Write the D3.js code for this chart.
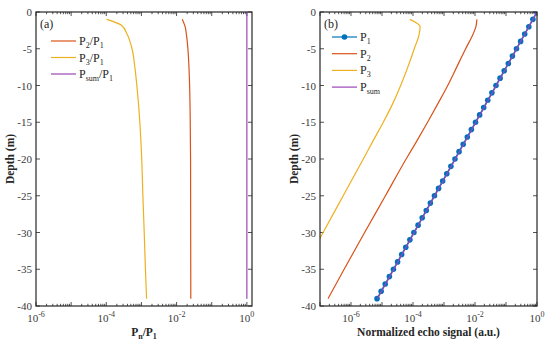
<!DOCTYPE html>
<html>
<head>
<meta charset="utf-8">
<script src="https://cdn.jsdelivr.net/npm/d3@7"></script>
<style>
  body { margin: 0; background: #fff; }
  svg text { font-family: 'Times New Roman', Times, 'Liberation Serif', 'DejaVu Serif', serif; fill: #262626; }
</style>
</head>
<body>
<div id="chart"></div>
<script>
// panel (a) ratios
const depthP2P1 = [-1, -2, -3, -5, -7.5, -10, -15, -20, -30, -39]
const p2p1 = [0.0145, 0.0175, 0.019, 0.021, 0.0225, 0.0235, 0.0245, 0.025, 0.0252, 0.0254]
const depthP3P1 = [-1, -1.8, -3, -4, -5, -7.5, -10, -12, -15, -20, -25, -30, -35, -39]
const p3p1 = [1.02e-4, 2.7e-4, 3.9e-4, 4.7e-4, 5.4e-4, 6.5e-4, 7.4e-4, 8.1e-4, 9.0e-4, 1.02e-3, 1.1e-3, 1.2e-3, 1.3e-3, 1.4e-3]
const depthSumA = [0, -39]
const psump1 = [1.0, 1.0]

// panel (b) signals
const depthP1 = d3.range(0, -40, -1)
const p1 = [1, 0.737, 0.544, 0.401, 0.296, 0.218, 0.161, 0.119, 0.0875, 0.0645,
  0.0475, 0.0351, 0.0258, 0.0191, 0.0141, 0.0104, 0.00764, 0.00564, 0.00416, 0.00306,
  0.00226, 0.00167, 0.00123, 9.06e-4, 6.68e-4, 4.92e-4, 3.63e-4, 2.68e-4, 1.98e-4, 1.46e-4,
  1.07e-4, 7.92e-5, 5.84e-5, 4.31e-5, 3.18e-5, 2.34e-5, 1.73e-5, 1.27e-5, 9.39e-6, 6.92e-6]
const depthP2 = [-1, -2, -3, -5, -7.5, -10, -12.5, -15, -17.5, -20, -25, -30, -35, -39]
const p2 = [1.15e-2, 1.07e-2, 8.7e-3, 5.0e-3, 2.57e-3, 1.32e-3, 6.3e-4, 2.95e-4, 1.35e-4, 6.0e-5,
  1.29e-5, 2.75e-6, 6.0e-7, 1.82e-7]
const depthP3 = [-1, -2, -3, -5, -7.5, -10, -12.5, -15, -17.5, -20, -25, -30, -31.5]
const p3 = [7.9e-5, 1.7e-4, 1.58e-4, 1.1e-4, 6.8e-5, 4.0e-5, 2.2e-5, 1.1e-5, 5.2e-6, 2.5e-6,
  5.6e-7, 1.26e-7, 8.1e-8]
const depthSum = [0, -10, -20, -30, -39]
const psum = [1.0, 0.049, 0.00232, 1.1e-4, 7.1e-6]

const depthTicks = [0, -5, -10, -15, -20, -25, -30, -35, -40]
const decadeTicks = [1e-6, 1e-4, 1e-2, 1]

const colors = { blue: '#0072BD', orange: '#D95319', yellow: '#EDB120', purple: '#9A45B8' }

const w = 550
const h = 348

const svg = d3.select('#chart')
  .append('svg')
  .attr('width', w)
  .attr('height', h)

const drawPanel = (opt) => {
  const g = svg.append('g')
  const x = d3.scaleLog().domain(opt.xDomain).range([opt.left, opt.right])
  const y = d3.scaleLinear().domain([-40, 0]).range([opt.bottom, opt.top])

  const clipId = 'clip' + opt.name
  svg.append('clipPath').attr('id', clipId)
    .append('rect')
    .attr('x', opt.left).attr('y', opt.top)
    .attr('width', opt.right - opt.left).attr('height', opt.bottom - opt.top)

  // log ticks on top and bottom
  const ticks = []
  const lo = Math.floor(Math.log10(opt.xDomain[0]))
  for (let e = lo; e < 1; e++) {
    for (let m = 1; m < 10; m++) {
      const v = m * Math.pow(10, e)
      if (v >= opt.xDomain[0] && v <= opt.xDomain[1]) ticks.push({ v, major: m === 1 })
    }
  }
  ticks.forEach(t => {
    const len = t.major ? 4 : 2.2
    const xx = x(t.v)
    g.append('line').attr('x1', xx).attr('x2', xx).attr('y1', opt.bottom).attr('y2', opt.bottom - len)
      .attr('stroke', '#262626').attr('stroke-width', 0.8)
    g.append('line').attr('x1', xx).attr('x2', xx).attr('y1', opt.top).attr('y2', opt.top + len)
      .attr('stroke', '#262626').attr('stroke-width', 0.8)
  })

  depthTicks.forEach(d => {
    const yy = y(d)
    g.append('line').attr('x1', opt.left).attr('x2', opt.left + 4).attr('y1', yy).attr('y2', yy)
      .attr('stroke', '#262626').attr('stroke-width', 0.8)
    g.append('line').attr('x1', opt.right).attr('x2', opt.right - 4).attr('y1', yy).attr('y2', yy)
      .attr('stroke', '#262626').attr('stroke-width', 0.8)
    g.append('text')
      .attr('x', opt.left - 4).attr('y', yy + 4)
      .attr('text-anchor', 'end')
      .style('font-size', '11px')
      .style('fill', '#3a3a3a')
      .text(d === 0 ? '0' : '-' + Math.abs(d))
  })

  decadeTicks.forEach(v => {
    const t = g.append('text')
      .attr('x', x(v)).attr('y', opt.bottom + 16)
      .attr('text-anchor', 'middle')
      .style('font-size', '11px')
      .style('fill', '#3a3a3a')
    t.append('tspan').text('10')
    t.append('tspan').attr('dy', -5).style('font-size', '8px').text(Math.round(Math.log10(v)))
  })

  // lines
  const line = d3.line().x(d => x(d[0])).y(d => y(d[1])).curve(d3.curveMonotoneY)
  const plot = g.append('g').attr('clip-path', `url(#${clipId})`)
  opt.series.forEach(s => {
    const pts = s.values.map((v, i) => [v, s.depth[i]])
    plot.append('path')
      .datum(pts)
      .attr('d', line)
      .attr('fill', 'none')
      .attr('stroke', s.color)
      .attr('stroke-width', s.width || 1.2)
    if (s.markers) {
      plot.selectAll(null)
        .data(pts)
        .enter()
        .append('circle')
        .attr('cx', d => x(d[0]))
        .attr('cy', d => y(d[1]))
        .attr('r', 2.8)
        .attr('fill', s.color)
    }
  })
  if (opt.overlay) {
    const s = opt.overlay
    plot.append('path')
      .datum(s.values.map((v, i) => [v, s.depth[i]]))
      .attr('d', line)
      .attr('fill', 'none')
      .attr('stroke', s.color)
      .attr('stroke-width', 1.2)
  }

  // frame
  g.append('rect')
    .attr('x', opt.left).attr('y', opt.top)
    .attr('width', opt.right - opt.left).attr('height', opt.bottom - opt.top)
    .attr('fill', 'none').attr('stroke', '#262626').attr('stroke-width', 1.2)

  g.append('text')
    .attr('x', opt.left + 4).attr('y', opt.top + 16)
    .style('font-size', '12px')
    .text(opt.name === 'a' ? '(a)' : '(b)')

  // legend
  opt.legend.forEach((l, i) => {
    const ly = opt.legendY + i * opt.legendStep
    g.append('line')
      .attr('x1', opt.legendX).attr('x2', opt.legendX + 25)
      .attr('y1', ly).attr('y2', ly)
      .attr('stroke', l.color).attr('stroke-width', 1.2)
    if (l.marker) {
      g.append('circle').attr('cx', opt.legendX + 12.5).attr('cy', ly).attr('r', 2.8).attr('fill', l.color)
    }
    const t = g.append('text')
      .attr('x', opt.legendX + 28).attr('y', ly + 4)
      .style('font-size', '12px')
    l.parts.forEach(p => {
      t.append('tspan').attr('dy', p.dy || 0).style('font-size', p.sub ? '8px' : '12px').text(p.t)
    })
  })

  // axis labels
  svg.append('text')
    .attr('transform', `translate(${opt.left - 22},${(opt.top + opt.bottom) / 2}) rotate(-90)`)
    .attr('text-anchor', 'middle')
    .style('font-size', '11.5px')
    .style('font-weight', 'bold')
    .text('Depth (m)')

  const xl = svg.append('text')
    .attr('x', (opt.left + opt.right) / 2).attr('y', opt.bottom + 30)
    .attr('text-anchor', 'middle')
    .style('font-size', '11.5px')
    .style('font-weight', 'bold')
  opt.xLabel.forEach(p => {
    xl.append('tspan').attr('dy', p.dy || 0).style('font-size', p.sub ? '8px' : '11.5px').text(p.t)
  })
}

drawPanel({
  name: 'a', left: 36, right: 252, top: 12, bottom: 306,
  xDomain: [1e-6, 1.4],
  series: [
    { depth: depthP2P1, values: p2p1, color: colors.orange },
    { depth: depthP3P1, values: p3p1, color: colors.yellow },
    { depth: depthSumA, values: psump1, color: colors.purple }
  ],
  legendX: 51, legendY: 41, legendStep: 16.5,
  legend: [
    { color: colors.orange, parts: [{ t: 'P' }, { t: '2', sub: true, dy: 3 }, { t: '/P', dy: -3 }, { t: '1', sub: true, dy: 3 }] },
    { color: colors.yellow, parts: [{ t: 'P' }, { t: '3', sub: true, dy: 3 }, { t: '/P', dy: -3 }, { t: '1', sub: true, dy: 3 }] },
    { color: colors.purple, parts: [{ t: 'P' }, { t: 'sum', sub: true, dy: 3 }, { t: '/P', dy: -3 }, { t: '1', sub: true, dy: 3 }] }
  ],
  xLabel: [{ t: 'P' }, { t: 'n', sub: true, dy: 3 }, { t: '/P', dy: -3 }, { t: '1', sub: true, dy: 3 }]
})

drawPanel({
  name: 'b', left: 320, right: 537, top: 12, bottom: 306,
  xDomain: [1e-7, 1],
  series: [
    { depth: depthP1, values: p1, color: colors.blue, markers: true, width: 1.5 },
    { depth: depthP2, values: p2, color: colors.orange },
    { depth: depthP3, values: p3, color: colors.yellow }
  ],
  overlay: { depth: depthSum, values: psum, color: colors.purple },
  legendX: 332, legendY: 37, legendStep: 16.7,
  legend: [
    { color: colors.blue, marker: true, parts: [{ t: 'P' }, { t: '1', sub: true, dy: 3 }] },
    { color: colors.orange, parts: [{ t: 'P' }, { t: '2', sub: true, dy: 3 }] },
    { color: colors.yellow, parts: [{ t: 'P' }, { t: '3', sub: true, dy: 3 }] },
    { color: colors.purple, parts: [{ t: 'P' }, { t: 'sum', sub: true, dy: 3 }] }
  ],
  xLabel: [{ t: 'Normalized echo signal (a.u.)' }]
})
</script>
</body>
</html>
